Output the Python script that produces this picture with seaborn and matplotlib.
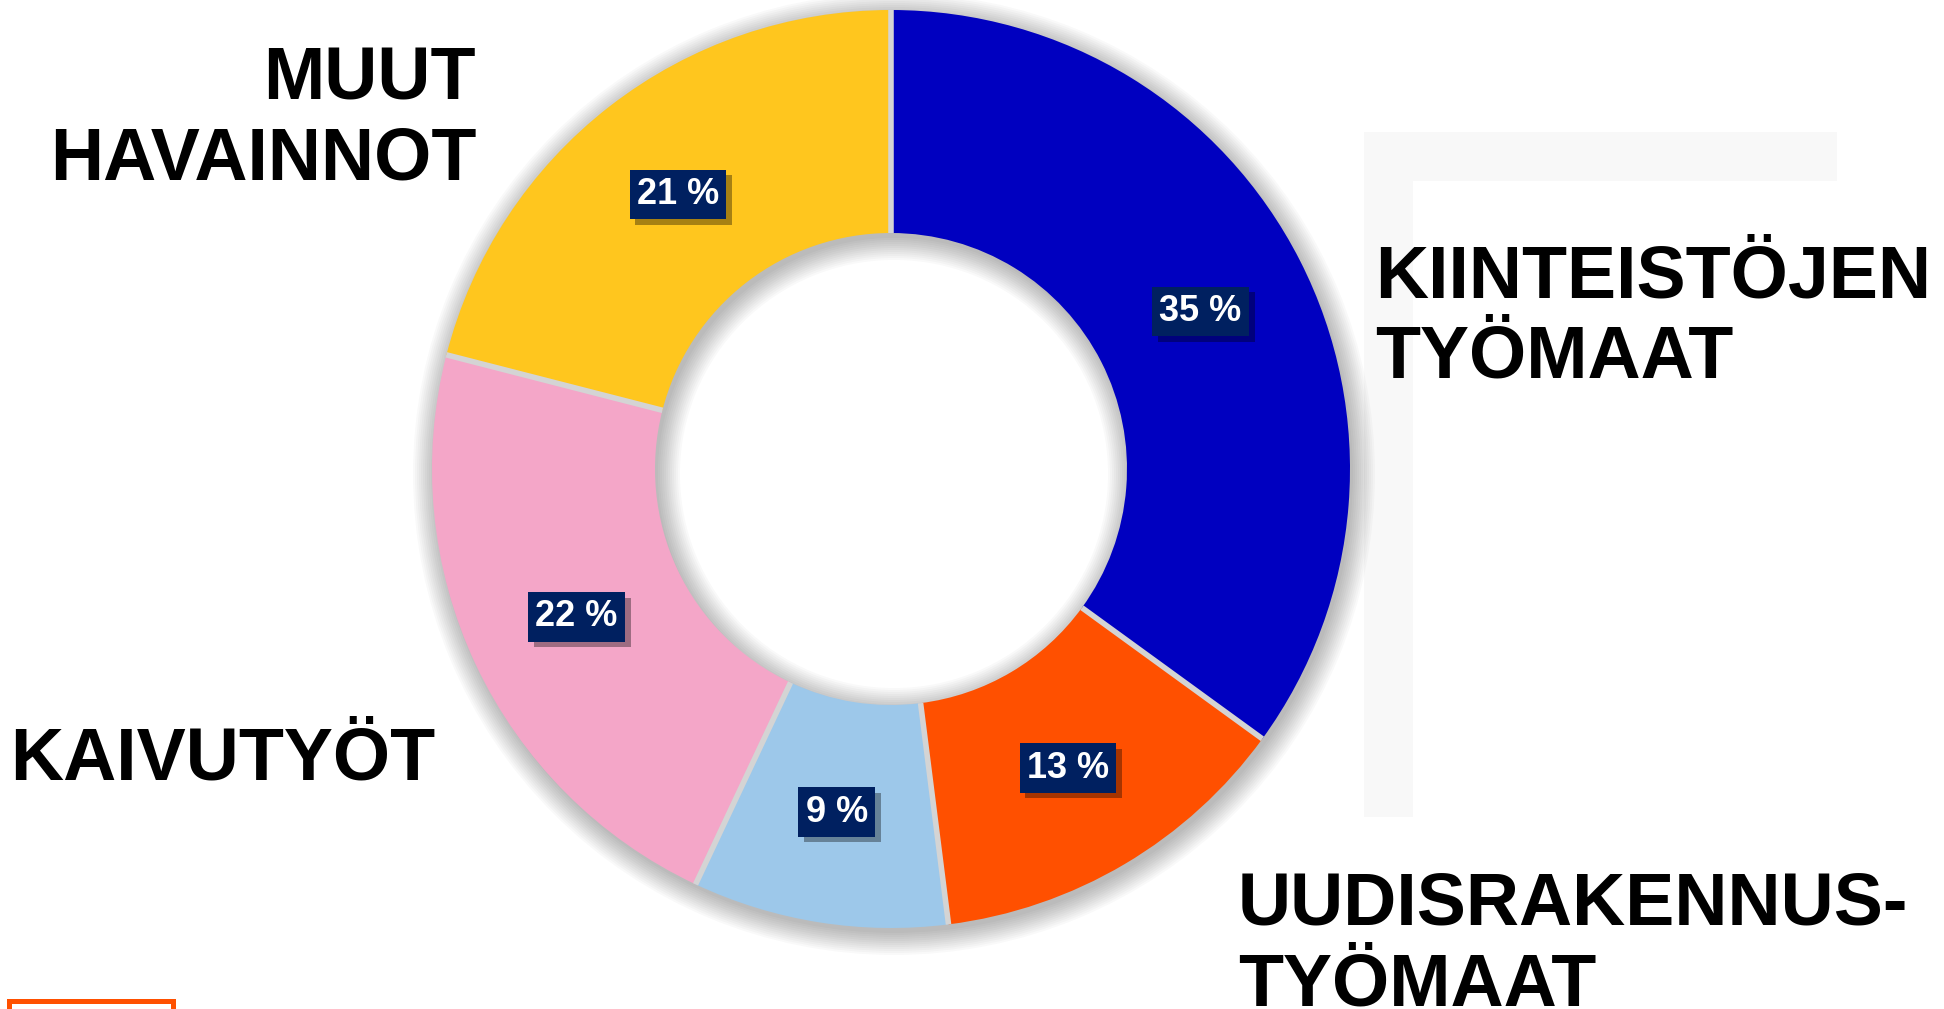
import matplotlib
matplotlib.use("Agg")
import matplotlib.pyplot as plt
import matplotlib.patheffects as pe
from matplotlib.patches import Wedge, Rectangle
import numpy as np
import seaborn as sns

# data (clockwise from 12 o'clock)
categories = ["KIINTEISTÖJEN\nTYÖMAAT", "UUDISRAKENNUS-\nTYÖMAAT", "", "KAIVUTYÖT", "MUUT\nHAVAINNOT"]
shares = [35, 13, 9, 22, 21]
colors = ["#0000C0", "#FF5000", "#9DC8EA", "#F4A6C8", "#FFC61E"]

sns.set_theme(style="white")
plt.rcParams['font.family'] = ['Liberation Sans', 'DejaVu Sans']

W, H = 1944, 1009
fig = plt.figure(figsize=(W / 100, H / 100), dpi=100)
ax = fig.add_axes([0, 0, 1, 1])

cx, cy = 891, H - 469
r_out, r_in = 459, 236
ring = r_out - r_in

# soft shadow around the ring
for k in range(12):
    ax.add_patch(Wedge((cx + 3, cy - 5), r_out + k * 2, 0, 360, width=ring + k * 4,
                       facecolor="black", edgecolor="none", alpha=0.025, zorder=0))

wedges, _, autotexts = ax.pie(
    shares, colors=sns.color_palette(colors), startangle=90, counterclock=False,
    center=(cx, cy), radius=r_out, autopct=lambda p: f"{p:.0f} %",
    pctdistance=(r_in + r_out) / 2 / r_out,
    wedgeprops=dict(width=ring, edgecolor="none", zorder=2),
    textprops=dict(color="white", fontsize=26, fontweight="bold"))

# gray separators between slices
for w in wedges:
    a = np.deg2rad(w.theta1)
    ax.plot([cx + r_in * np.cos(a), cx + r_out * np.cos(a)],
            [cy + r_in * np.sin(a), cy + r_out * np.sin(a)],
            color="#D4D4D4", lw=4, solid_capstyle="butt", zorder=3)

for t in autotexts:
    t.set_zorder(5)
    t.set_bbox(dict(boxstyle="square,pad=0.2", facecolor="#002060", edgecolor="none"))
    t.get_bbox_patch().set_path_effects([
        pe.SimplePatchShadow(offset=(4, -4), shadow_rgbFace="black", alpha=0.35),
        pe.Normal()])

# category labels (y = baseline of last line)
lab = dict(fontsize=53, fontweight="bold", color="black", va="baseline", linespacing=1.2)
ax.text(476, H - 179, categories[4], ha="right", multialignment="right", **lab)
ax.text(1375, H - 377, categories[0], ha="left", **lab)
ax.text(1238, H - 1005, categories[1], ha="left", **lab)
ax.text(10, H - 779, categories[3], ha="left", **lab)

# faint background decorations
ax.add_patch(Rectangle((1364, H - 181), 473, 49, facecolor="#F8F8F8", edgecolor="none", zorder=-1))
ax.add_patch(Rectangle((1364, H - 817), 49, 636, facecolor="#F8F8F8", edgecolor="none", zorder=-1))
ax.add_patch(Rectangle((9, -20), 164, H - 999 + 18, facecolor="none", edgecolor="#FF5000",
                       lw=3.6, zorder=1))

ax.set_xlim(0, W)
ax.set_ylim(0, H)
ax.set_aspect("equal")
ax.axis("off")

fig.savefig("out.png", dpi=100, facecolor="white")
